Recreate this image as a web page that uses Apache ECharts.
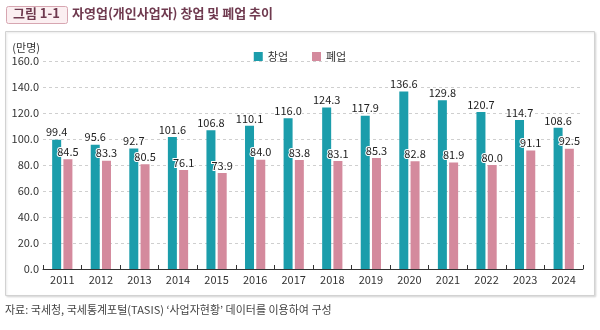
<!DOCTYPE html>
<html>
<head>
<meta charset="utf-8">
<script src="https://cdn.jsdelivr.net/npm/echarts@6/dist/echarts.min.js"></script>
<style>
  html, body { margin: 0; padding: 0; background: #ffffff; }
  #chart { width: 600px; height: 330px; }
</style>
</head>
<body>
<div id="chart"></div>
<script>
// Years on the category axis
const years = ['2011', '2012', '2013', '2014', '2015', '2016', '2017', '2018', '2019', '2020', '2021', '2022', '2023', '2024'];
// Business start-ups (10,000 persons)
const startups = [99.4, 95.6, 92.7, 101.6, 106.8, 110.1, 116.0, 124.3, 117.9, 136.6, 129.8, 120.7, 114.7, 108.6];
// Business closures (10,000 persons)
const closures = [84.5, 83.3, 80.5, 76.1, 73.9, 84.0, 83.8, 83.1, 85.3, 82.8, 81.9, 80.0, 91.1, 92.5];
const seriesNames = ['창업', '폐업'];

const FONT = '"Noto Sans CJK KR", "Noto Sans", sans-serif';
const TEAL = '#1b9dab';
const PINK = '#d48a9d';
const TITLE_COLOR = '#6f3a4f';

const chart = echarts.init(document.getElementById('chart'), null, { renderer: 'canvas' });

const valueLabel = {
  show: true,
  position: 'top',
  distance: 2,
  fontFamily: FONT,
  fontSize: 11,
  color: '#222',
  textBorderColor: '#ffffff',
  textBorderWidth: 2,
  formatter: p => p.value.toFixed(1)
};

chart.setOption({
  animation: false,
  textStyle: { fontFamily: FONT },
  graphic: [
    // outer frame of the figure
    {
      type: 'rect', z: -10,
      shape: { x: 5.5, y: 31.5, width: 589, height: 264 },
      style: { fill: '#ffffff', stroke: '#d2d2d2', lineWidth: 1,
               shadowColor: 'rgba(0,0,0,0.12)', shadowBlur: 2, shadowOffsetX: 1, shadowOffsetY: 1 }
    },
    // figure number tag
    {
      type: 'rect',
      shape: { x: 6.5, y: 6.5, width: 61, height: 17, r: 2 },
      style: { fill: '#fbeff1', stroke: '#d7a6b1', lineWidth: 1 }
    },
    {
      type: 'text', left: 13, top: 7,
      style: { text: '그림 1-1', font: 'bold 13px ' + FONT, fill: TITLE_COLOR }
    },
    {
      type: 'text', left: 72, top: 7,
      style: { text: '자영업(개인사업자) 창업 및 폐업 추이', font: 'bold 13px ' + FONT, fill: TITLE_COLOR }
    },
    // source note
    {
      type: 'text', left: 5, top: 304,
      style: { text: '자료: 국세청, 국세통계포털(TASIS) ‘사업자현황’ 데이터를 이용하여 구성', font: '11px ' + FONT, fill: '#444' }
    }
  ],
  legend: {
    data: seriesNames,
    top: 46,
    left: 'center',
    itemWidth: 9,
    itemHeight: 9,
    itemGap: 24,
    icon: 'rect',
    textStyle: { fontFamily: FONT, fontSize: 11, color: '#333' }
  },
  grid: { left: 43, right: 17, top: 61, bottom: 61 },
  xAxis: {
    type: 'category',
    data: years,
    axisLine: { lineStyle: { color: '#333', width: 1 } },
    axisTick: { show: true, inside: true, length: 4, lineStyle: { color: '#333' } },
    axisLabel: { fontFamily: FONT, fontSize: 11, color: '#333', margin: 5 }
  },
  yAxis: {
    type: 'value',
    min: 0, max: 160, interval: 20,
    name: '(만명)',
    nameLocation: 'end',
    nameGap: 8,
    nameTextStyle: { fontFamily: FONT, fontSize: 11, color: '#333', align: 'right', padding: [0, 3, 0, 0] },
    axisLine: { show: false },
    axisTick: { show: false },
    axisLabel: { fontFamily: FONT, fontSize: 11, color: '#333', margin: 4, formatter: v => v.toFixed(1) },
    splitLine: { lineStyle: { color: '#cfcfcf', type: [3, 3], width: 1 } }
  },
  series: [
    {
      name: seriesNames[0], type: 'bar', data: startups,
      barWidth: 9, barGap: '25%',
      itemStyle: { color: TEAL },
      label: valueLabel
    },
    {
      name: seriesNames[1], type: 'bar', data: closures,
      barWidth: 9,
      itemStyle: { color: PINK },
      label: valueLabel
    }
  ]
});
</script>
</body>
</html>
